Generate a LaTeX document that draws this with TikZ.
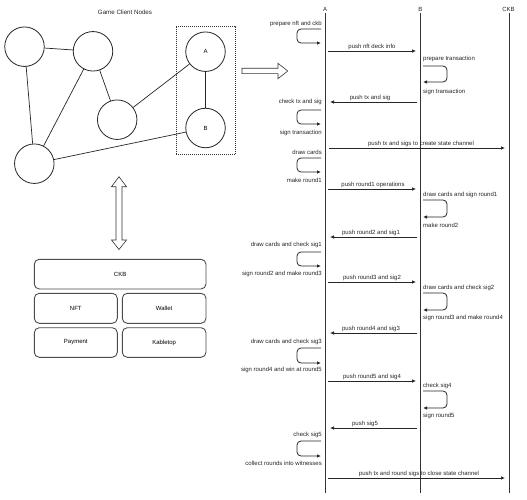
\documentclass[tikz,border=0pt]{standalone}
\usepackage{fontspec}
\setmainfont{Liberation Sans}
\usetikzlibrary{arrows.meta}
\tikzset{
  lbl/.style={inner sep=0pt, font=\fontsize{6}{7}\selectfont, text=black!85},
  peer/.style={circle, draw=black!85, line width=0.8pt, minimum size=39.5pt, inner sep=0pt, font=\fontsize{6}{7}\selectfont},
  edge/.style={draw=black!85, line width=0.7pt},
  modbox/.style={draw=black!70, line width=0.9pt, rounded corners=5pt, inner sep=0pt, font=\fontsize{6}{7}\selectfont},
  life/.style={draw=black!80, line width=0.9pt},
  msgline/.style={draw=black!85, line width=0.7pt, -{Latex[length=4pt,width=3.5pt]}},
  loopline/.style={draw=black!85, line width=0.8pt, rounded corners=4pt, -{Latex[length=4pt,width=3.5pt]}},
  hollow/.style={draw=black!80, line width=0.6pt, fill=white}
}
\newcommand\loopA[7]{%
  \node[lbl, anchor=east] (#1t) at (322,#2) {#3};
  \coordinate (#1s) at (321,#4);
  \coordinate (#1e) at (321,#5);
  \draw[loopline] (#1s) -- ([xshift=-24pt]#1s) |- (#1e);
  \node[lbl, anchor=east] (#1b) at (322,#6) {#7};
}
\newcommand\loopB[7]{%
  \node[lbl, anchor=west] (#1t) at (423,#2) {#3};
  \coordinate (#1s) at (423,#4);
  \coordinate (#1e) at (423,#5);
  \draw[loopline] (#1s) -- ([xshift=24pt]#1s) |- (#1e);
  \node[lbl, anchor=west] (#1b) at (423,#6) {#7};
}
\newcommand\msg[6]{%
  \coordinate (#1s) at (#2,#4);
  \coordinate (#1e) at (#3,#4);
  \draw[msgline] (#1s) -- (#1e);
  \node[lbl] (#1l) at (#5,{#4-4.5}) {#6};
}
\begin{document}
\begin{tikzpicture}[x=1pt,y=-1pt]
\useasboundingbox (0,0) rectangle (527,500);
\fill[white] (0,0) rectangle (527,500);

% ---------- left: graph of client nodes ----------
\node[lbl, font=\fontsize{6.2}{7}\selectfont] (title) at (125,12) {Game Client Nodes};
\node[peer] (c1) at (24.5,46.7) {};
\node[peer] (c2) at (93,51.3) {};
\node[peer] (c3) at (117.2,119.7) {};
\node[peer] (na) at (205.5,51.7) {A};
\node[peer] (nb) at (205.5,128) {B};
\node[peer] (c5) at (34.3,163.7) {};
\draw[edge] (c1) -- (c2);
\draw[edge] (c1) -- (c5);
\draw[edge] (c2) -- (c5);
\draw[edge] (c2) -- (c3);
\draw[edge] (c3) -- (na);
\draw[edge] (na) -- (nb);
\draw[edge] (nb) -- (c5);
\draw[draw=black!80, line width=0.8pt, dash pattern=on 1pt off 1pt] (176,26.7) rectangle (235.7,154.3);

% hollow right arrow
\draw[hollow] (242,68.3) -- (278,68.3) -- (278,63.3) -- (287.7,71) -- (278,78.7) -- (278,73.7) -- (242,73.7) -- cycle;
% hollow double vertical arrow
\draw[hollow] (119,176.7) -- (126.5,186.7) -- (122,186.7) -- (122,240) -- (126.5,240) -- (119,249.5)
  -- (111.5,240) -- (116,240) -- (116,186.7) -- (111.5,186.7) -- cycle;

% module boxes
\node[modbox, minimum width=171.7pt, minimum height=29.7pt] (ckb) at (120.15,274.15) {CKB};
\node[modbox, minimum width=83pt, minimum height=30pt] (nft) at (75.8,308.3) {NFT};
\node[modbox, minimum width=83.7pt, minimum height=30pt] (wallet) at (164.15,308.3) {Wallet};
\node[modbox, minimum width=83pt, minimum height=29.6pt] (payment) at (75.8,342.5) {Payment};
\node[modbox, minimum width=83.7pt, minimum height=29.6pt] (kabletop) at (164.15,342.5) {Kabletop};

% ---------- right: sequence diagram ----------
\node[lbl] (la) at (325,9.3) {A};
\node[lbl] (lb) at (420.3,9.3) {B};
\node[lbl] (lc) at (508.5,9.3) {CKB};
\coordinate (lat) at (325,13.5); \coordinate (lab) at (325,493);
\coordinate (lbt) at (420.3,13.5); \coordinate (lbb) at (420.3,493);
\coordinate (lct) at (509,13.5); \coordinate (lcb) at (509,493);
\draw[life] (lat) -- (lab);
\draw[life] (lbt) -- (lbb);
\draw[life] (lct) -- (lcb);

% 1
\node[lbl, anchor=east] (s1t) at (322,24) {prepare nft and ckb};
\coordinate (s1s) at (321,29); \coordinate (s1e) at (321,43);
\draw[loopline] (s1s) -- ([xshift=-24pt]s1s) |- (s1e);
% 2
\msg{m2}{328}{416}{51}{372}{push nft deck info}
% 3
\loopB{s3}{59}{prepare transaction}{66}{82}{92}{sign transaction}
% 4
\msg{m4}{417}{330}{102}{370}{push tx and sig}
% 5
\loopA{s5}{102}{check tx and sig}{110}{124}{132.5}{sign transaction}
% 6
\msg{m6}{329}{505}{148}{421}{push tx and sigs to create state channel}
% 7
\loopA{s7}{152.5}{draw cards}{158}{172}{180}{make round1}
% 8
\msg{m8}{328}{416}{189}{373}{push round1 operations}
% 9
\loopB{s9}{195}{draw cards and sign round1}{200}{217}{225}{make round2}
% 10
\msg{m10}{417}{330}{237}{371}{push round2 and sig1}
% 11
\loopA{s11}{245}{draw cards and check sig1}{252}{266}{274}{sign round2 and make round3}
% 12
\msg{m12}{328}{416}{282}{372}{push round3 and sig2}
% 13
\loopB{s13}{288}{draw cards and check sig2}{293}{310}{318}{sign round3 and make round4}
% 14
\msg{m14}{417}{330}{333}{371}{push round4 and sig3}
% 15
\loopA{s15}{342}{draw cards and check sig3}{348}{363}{370}{sign round4 and win at round5}
% 16
\msg{m16}{328}{416}{381}{372}{push round5 and sig4}
% 17
\loopB{s17}{386}{check sig4}{391}{408}{416}{sign round5}
% 18
\msg{m18}{417}{330}{428}{365}{push sig5}
% 19
\loopA{s19}{435}{check sig5}{441}{456}{463}{collect rounds into witnesses}
% 20
\msg{m20}{328}{505}{478}{419}{push tx and round sigs to close state channel}
\end{tikzpicture}
\end{document}
